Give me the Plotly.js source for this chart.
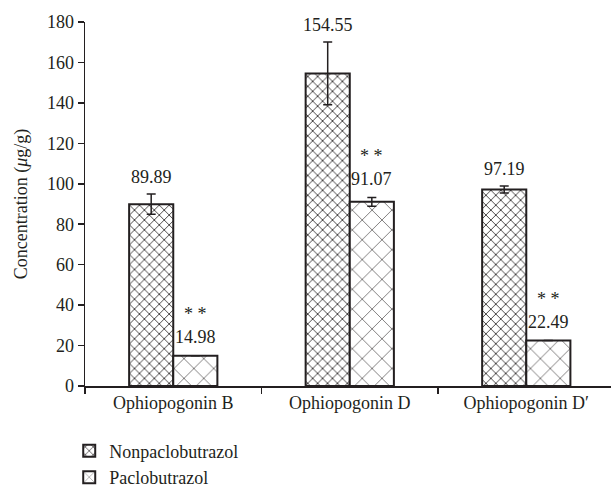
<!DOCTYPE html>
<html>
<head>
<meta charset="utf-8">
<script src="https://cdn.plot.ly/plotly-3.0.1.min.js"></script>
<style>html,body{margin:0;padding:0;background:#fff;}#chart{width:611px;height:491px;}</style>
</head>
<body>
<div id="chart"></div>
<script>
var categories = ['Ophiopogonin B', 'Ophiopogonin D', 'Ophiopogonin D\u2032'];
var nonpaclobutrazol = [89.89, 154.55, 97.19];
var nonpaclobutrazolErr = [5.0, 15.5, 1.7];
var paclobutrazol = [14.98, 91.07, 22.49];
var paclobutrazolErr = [0, 2.2, 0];
var significance = ['* *', '* *', '* *'];
var yTicks = [0, 20, 40, 60, 80, 100, 120, 140, 160, 180];

var ink = '#231f20';
var fontFamily = '"Liberation Serif", "DejaVu Serif", serif';

var traceNon = {
  type: 'bar', name: 'Nonpaclobutrazol', x: categories, y: nonpaclobutrazol,
  legendgroup: 'a',
  error_y: {type: 'data', array: nonpaclobutrazolErr, visible: true, color: ink, thickness: 1.5, width: 4.5},
  marker: {color: '#ffffff', line: {color: ink, width: 2},
    pattern: {shape: 'x', size: 7, solidity: 0.22, fgcolor: ink, bgcolor: '#ffffff', fillmode: 'replace'}},
  hoverinfo: 'skip'
};
var tracePac = {
  type: 'bar', name: 'Paclobutrazol', x: categories, y: paclobutrazol,
  legendgroup: 'b',
  error_y: {type: 'data', array: paclobutrazolErr, visible: true, color: ink, thickness: 1.5, width: 4.5},
  marker: {color: '#ffffff', line: {color: ink, width: 2},
    pattern: {shape: 'x', size: 14, solidity: 0.08, fgcolor: ink, bgcolor: '#ffffff', fillmode: 'replace'}},
  hoverinfo: 'skip'
};

var annotations = [];
for (var i = 0; i < categories.length; i++) {
  annotations.push({
    x: categories[i], y: nonpaclobutrazol[i] + nonpaclobutrazolErr[i], xref: 'x', yref: 'y',
    text: nonpaclobutrazol[i].toFixed(2), showarrow: false, xshift: -22, yshift: 17,
    yanchor: 'middle', font: {family: fontFamily, size: 18, color: ink}
  });
  annotations.push({
    x: categories[i], y: paclobutrazol[i] + paclobutrazolErr[i], xref: 'x', yref: 'y',
    text: significance[i] + '<br>' + paclobutrazol[i].toFixed(2), showarrow: false, xshift: 22, yshift: 30,
    yanchor: 'middle', align: 'center', font: {family: fontFamily, size: 18, color: ink}
  });
}

var layout = {
  width: 611, height: 491,
  margin: {l: 85, r: 0, t: 22, b: 104.5, pad: 0, autoexpand: false},
  paper_bgcolor: '#ffffff', plot_bgcolor: '#ffffff',
  font: {family: fontFamily, size: 18, color: ink},
  barmode: 'group', bargap: 0.5, bargroupgap: 0,
  showlegend: true,
  legend: {x: -0.03, xanchor: 'left', y: -0.128, yanchor: 'top', orientation: 'v',
    traceorder: 'grouped', tracegroupgap: 0, font: {family: fontFamily, size: 18, color: ink},
    bgcolor: 'rgba(0,0,0,0)'},
  xaxis: {
    type: 'category', range: [-0.5, 2.48], showline: true, linecolor: ink, linewidth: 1.5,
    ticks: 'outside', tickson: 'boundaries', ticklen: 6, tickcolor: ink, tickwidth: 1.5,
    showgrid: false, zeroline: false, tickfont: {family: fontFamily, size: 18, color: ink}
  },
  yaxis: {
    range: [0, 180], tickvals: yTicks, showline: true, linecolor: ink, linewidth: 1.5,
    ticks: 'outside', ticklen: 6, tickcolor: ink, tickwidth: 1.5,
    showgrid: false, zeroline: false, tickfont: {family: fontFamily, size: 18, color: ink},
    title: {text: 'Concentration (<i>\u03bc</i>g/g)', font: {family: fontFamily, size: 18, color: ink}, standoff: 14}
  },
  annotations: annotations
};

Plotly.newPlot('chart', [traceNon, tracePac], layout, {displayModeBar: false, staticPlot: true});
</script>
</body>
</html>
